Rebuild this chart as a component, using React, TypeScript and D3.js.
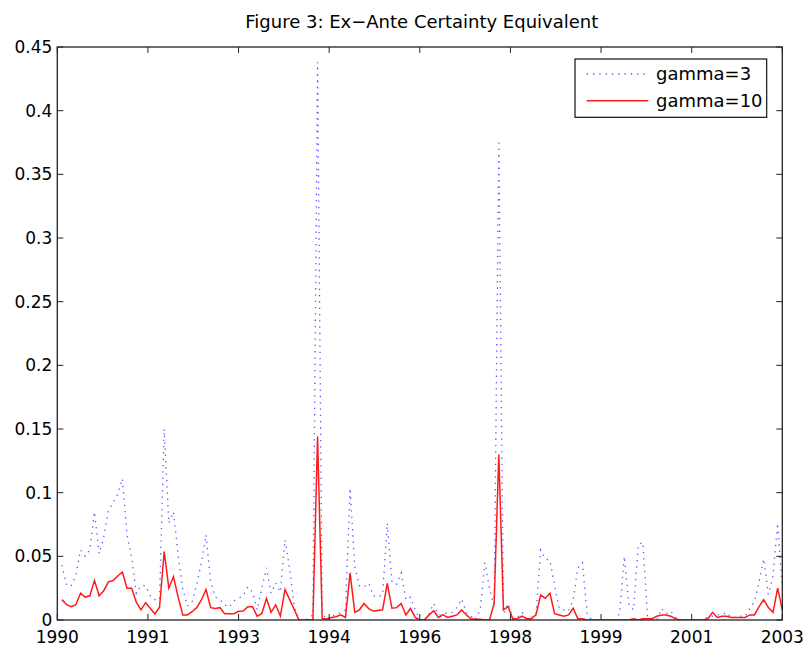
import React from 'react';
import * as d3 from 'd3';

const W = 805;
const H = 646;

// month offsets (1 = Feb 1990 ... 156 = Jan 2003)
const monthIndex: number[] = d3.range(1, 157);

const gamma3: number[] = [
  0.043, 0.027, 0.027, 0.035, 0.055, 0.05, 0.055, 0.085, 0.052, 0.065,
  0.086, 0.092, 0.099, 0.111, 0.067, 0.049, 0.021, 0.027, 0.027, 0.019,
  0.016, 0.016, 0.15, 0.076, 0.085, 0.051, 0.024, 0.011, 0.014, 0.028,
  0.045, 0.067, 0.03, 0.018, 0.016, 0.012, 0.01, 0.015, 0.017, 0.019,
  0.026, 0.022, 0.008, 0.025, 0.041, 0.021, 0.029, 0.022, 0.063, 0.04,
  0.01, 0, 0, 0.001, 0.004, 0.438, 0.006, 0, 0.003, 0.004,
  0.006, 0.008, 0.1035, 0.042, 0.027, 0.026, 0.029, 0.019, 0.018, 0.02,
  0.076, 0.03, 0.028, 0.037, 0.016, 0.018, 0.008, 0, 0, 0.005,
  0.013, 0.004, 0.004, 0.006, 0.006, 0.01, 0.0165, 0.006, 0.003, 0,
  0.008, 0.045, 0.025, 0.01, 0.377, 0.005, 0.013, 0.001, 0.002, 0.006,
  0.001, 0.002, 0.004, 0.055, 0.048, 0.047, 0.027, 0.009, 0.008, 0.007,
  0.016, 0.041, 0.045, 0.005, 0, 0, 0, 0, 0, 0,
  0.005, 0.05, 0.012, 0.008, 0.059, 0.061, 0.003, 0, 0, 0.009,
  0.005, 0.007, 0.002, 0, 0, 0, 0, 0, 0.001, 0.002,
  0.003, 0.004, 0.004, 0.006, 0.002, 0.002, 0.003, 0.003, 0.009, 0.0144,
  0.03, 0.048, 0.02, 0.035, 0.076, 0.025,
];

const gamma10: number[] = [
  0.016, 0.012, 0.0105, 0.012, 0.021, 0.018, 0.019, 0.031, 0.019, 0.023,
  0.03, 0.031, 0.0346, 0.0377, 0.025, 0.025, 0.014, 0.008, 0.0136, 0.0092,
  0.0047, 0.01, 0.0537, 0.025, 0.034, 0.018, 0.004, 0.004, 0.0065, 0.0097,
  0.0157, 0.024, 0.0097, 0.009, 0.0097, 0.005, 0.005, 0.005, 0.0068, 0.007,
  0.0105, 0.0105, 0.003, 0.005, 0.017, 0.006, 0.0118, 0.003, 0.024, 0.016,
  0.008, 0, 0, 0, 0, 0.144, 0.001, 0.001, 0.002, 0.0026,
  0.004, 0.002, 0.037, 0.006, 0.008, 0.013, 0.009, 0.007, 0.0075, 0.008,
  0.0288, 0.0092, 0.0097, 0.013, 0.004, 0.009, 0.002, 0, 0, 0.004,
  0.0073, 0.002, 0.004, 0.002, 0.003, 0.004, 0.0079, 0.004, 0.001, 0.0005,
  0.0005, 0, 0, 0.013, 0.13, 0.008, 0.0105, 0.001, 0.001, 0.003,
  0.001, 0.001, 0.004, 0.0196, 0.017, 0.021, 0.005, 0.004, 0.003, 0.004,
  0.0092, 0.001, 0.001, 0, 0, 0, 0, 0, 0, 0,
  0, 0, 0, 0.001, 0, 0.001, 0.001, 0.001, 0.003, 0.004,
  0.004, 0.003, 0.001, 0, 0, 0, 0, 0, 0, 0.001,
  0.006, 0.002, 0.003, 0.003, 0.002, 0.002, 0.002, 0.002, 0.004, 0.004,
  0.0105, 0.016, 0.0097, 0.006, 0.025, 0.008,
];

const yTicks: number[] = [0, 0.05, 0.1, 0.15, 0.2, 0.25, 0.3, 0.35, 0.4, 0.45];
const yTickLabels: string[] = ['0', '0.05', '0.1', '0.15', '0.2', '0.25', '0.3', '0.35', '0.4', '0.45'];
const xTickLabels: string[] = ['1990', '1991', '1993', '1994', '1996', '1998', '1999', '2001', '2003'];

const seriesNames = ['gamma=3', 'gamma=10'];
const title = 'Figure 3: Ex\u2212Ante Certainty Equivalent';

const FONT = '"DejaVu Sans", "Liberation Sans", Arial, sans-serif';

export default function App() {
  const left = 57.3;
  const right = 782.3;
  const top = 47;
  const bottom = 620;

  const x = d3.scaleLinear().domain([1990, 2003]).range([left, right]);
  const y = d3.scaleLinear().domain([0, 0.45]).range([bottom, top]);

  const xTickVals = xTickLabels.map((_, k) => 1990 + (13 * k) / (xTickLabels.length - 1));

  const line = d3
    .line<number>()
    .x((_, i) => x(1990 + monthIndex[i] / 12))
    .y((d) => y(d));

  const tickLen = 6;
  const axisColor = '#222';

  return (
    <svg
      width={W}
      height={H}
      style={{ position: 'absolute', left: 0, top: 0, background: '#fff' }}
      fontFamily={FONT}
    >
      <rect x={0} y={0} width={W} height={H} fill="#fff" />
      <text x={(left + right) / 2 + 2} y={28} textAnchor="middle" fontSize={18} fill="#000">
        {title}
      </text>

      <defs>
        <clipPath id="plotclip">
          <rect x={left} y={top} width={right - left} height={bottom - top} />
        </clipPath>
      </defs>

      <g clipPath="url(#plotclip)">
        <path
          d={line(gamma3) || ''}
          fill="none"
          stroke="#2a2aff"
          strokeWidth={1.3}
          strokeDasharray="1.3 5"
          strokeOpacity={0.8}
        />
        <path d={line(gamma10) || ''} fill="none" stroke="#ff1a1a" strokeWidth={1.5} />
      </g>

      {/* ticks */}
      {xTickVals.map((v, k) => (
        <g key={'xt' + k}>
          <line x1={x(v)} x2={x(v)} y1={bottom} y2={bottom - tickLen} stroke={axisColor} strokeWidth={1} />
          <line x1={x(v)} x2={x(v)} y1={top} y2={top + tickLen} stroke={axisColor} strokeWidth={1} />
          <text x={x(v)} y={643} textAnchor="middle" fontSize={17} fill="#000">
            {xTickLabels[k]}
          </text>
        </g>
      ))}
      {yTicks.map((v, k) => (
        <g key={'yt' + k}>
          <line x1={left} x2={left + tickLen} y1={y(v)} y2={y(v)} stroke={axisColor} strokeWidth={1} />
          <line x1={right} x2={right - tickLen} y1={y(v)} y2={y(v)} stroke={axisColor} strokeWidth={1} />
          <text x={left - 5} y={y(v)} dy="0.36em" textAnchor="end" fontSize={17} fill="#000">
            {yTickLabels[k]}
          </text>
        </g>
      ))}

      <rect x={left} y={top} width={right - left} height={bottom - top} fill="none" stroke={axisColor} strokeWidth={1.3} />

      {/* legend */}
      <g>
        <rect x={575} y={59} width={191.7} height={58.3} fill="#fff" stroke="#111" strokeWidth={1.2} />
        <line x1={586.7} x2={648.3} y1={74} y2={74} stroke="#2a2aff" strokeWidth={1.3} strokeDasharray="1.3 5" strokeOpacity={0.8} />
        <text x={656} y={74} dy="0.36em" fontSize={18} fill="#000">
          {seriesNames[0]}
        </text>
        <line x1={586.7} x2={648.3} y1={100.7} y2={100.7} stroke="#ff1a1a" strokeWidth={1.5} />
        <text x={656} y={100.7} dy="0.36em" fontSize={18} fill="#000">
          {seriesNames[1]}
        </text>
      </g>
    </svg>
  );
}
